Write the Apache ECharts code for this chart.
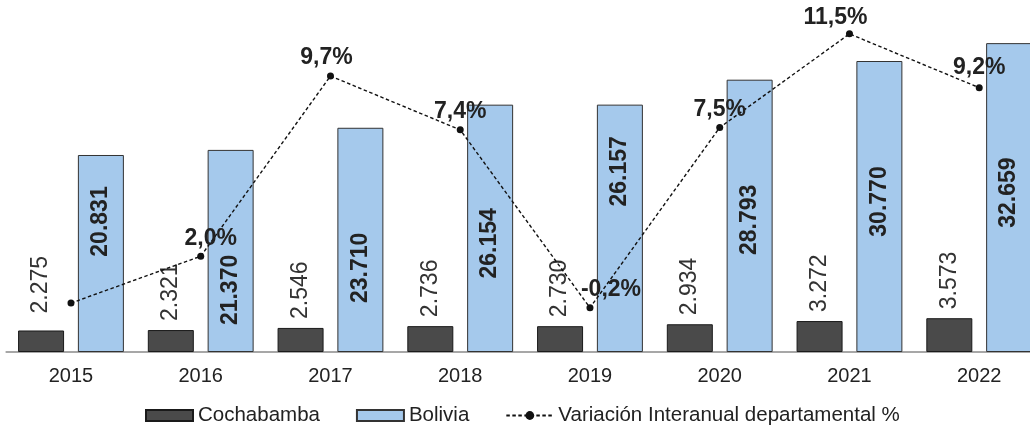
<!DOCTYPE html>
<html>
<head>
<meta charset="utf-8">
<script src="https://cdn.jsdelivr.net/npm/echarts@6/dist/echarts.min.js"></script>
<style>
  html, body { margin: 0; padding: 0; background: #fff; }
  #chart { width: 1030px; height: 426px; }
</style>
</head>
<body>
<div id="chart"></div>
<script>
// data
const years = ['2015', '2016', '2017', '2018', '2019', '2020', '2021', '2022'];
const cochabamba = [2275, 2321, 2546, 2736, 2730, 2934, 3272, 3573];
const bolivia = [20831, 21370, 23710, 26154, 26157, 28793, 30770, 32659];
const variacion = [0, 2.0, 9.7, 7.4, -0.2, 7.5, 11.5, 9.2];

// formatting helpers
const miles = v => String(v).replace(/\B(?=(\d{3})+(?!\d))/g, '.');
const pct = v => v.toFixed(1).replace('.', ',') + '%';

// labels that were moved by hand in the original (rotated labels: +x = up)
const bolNudge = { 0: 32, 1: -39, 2: -28, 3: -15, 4: 57, 5: -4, 6: 5, 7: 5 };
const cbbNudge = { 0: 8 };
const pctNudge = { 1: [10, 0], 2: [-4, 0], 4: [21, 0], 6: [-14, 2], 7: [0, -2] };

const chart = echarts.init(document.getElementById('chart'));

const txt = '"Liberation Sans", Arial, sans-serif';

chart.setOption({
  animation: false,
  textStyle: { fontFamily: txt },
  grid: { left: 6.1, right: -14.1, top: 21, bottom: 74, outerBoundsMode: 'none' },
  legend: {
    top: 400,
    left: 140,
    itemWidth: 47,
    itemHeight: 11,
    itemGap: 36,
    textStyle: { fontSize: 20.5, color: '#222', fontFamily: txt },
    data: [
      { name: 'Cochabamba', icon: 'rect' },
      { name: 'Bolivia', icon: 'rect' },
      'Variación Interanual departamental %'
    ]
  },
  xAxis: {
    type: 'category',
    data: years,
    axisTick: { show: false },
    axisLine: { lineStyle: { color: '#8a8a8a', width: 1.5 } },
    axisLabel: { fontSize: 20, color: '#222', margin: 14 }
  },
  yAxis: [
    { type: 'value', min: 0, max: 35000, show: false, splitLine: { show: false } },
    { type: 'value', min: -2.09, max: 12.05, show: false, splitLine: { show: false } }
  ],
  series: [
    {
      name: 'Cochabamba',
      type: 'bar',
      barWidth: 46,
      barGap: '30%',
      data: cochabamba.map((v, i) => ({
        value: v,
        label: { offset: [cbbNudge[i] || 0, 0] }
      })),
      itemStyle: { color: '#4a4a4a', borderColor: '#1a1a1a', borderWidth: 1 },
      label: {
        show: true, position: 'top', rotate: 90, distance: 9,
        align: 'left', verticalAlign: 'middle',
        fontSize: 23, color: '#333',
        formatter: p => miles(p.value)
      }
    },
    {
      name: 'Bolivia',
      type: 'bar',
      barWidth: 46,
      data: bolivia.map((v, i) => ({
        value: v,
        label: { offset: [bolNudge[i] || 0, 0] }
      })),
      itemStyle: { color: '#a5c9ec', borderColor: '#333', borderWidth: 1 },
      label: {
        show: true, position: 'inside', rotate: 90,
        fontSize: 23, fontWeight: 'bold', color: '#222',
        formatter: p => miles(p.value)
      }
    },
    {
      name: 'Variación Interanual departamental %',
      type: 'line',
      yAxisIndex: 1,
      data: variacion.map((v, i) => ({
        value: v,
        label: { show: i > 0, offset: pctNudge[i] || [0, 0] }
      })),
      symbol: 'circle',
      symbolSize: 7,
      itemStyle: { color: '#111' },
      lineStyle: { color: '#111', width: 1.4, type: [3.5, 2.5] },
      label: {
        position: 'top', distance: 3,
        fontSize: 23, fontWeight: 'bold', color: '#222',
        formatter: p => pct(p.value)
      },
      z: 5
    }
  ]
});
</script>
</body>
</html>
